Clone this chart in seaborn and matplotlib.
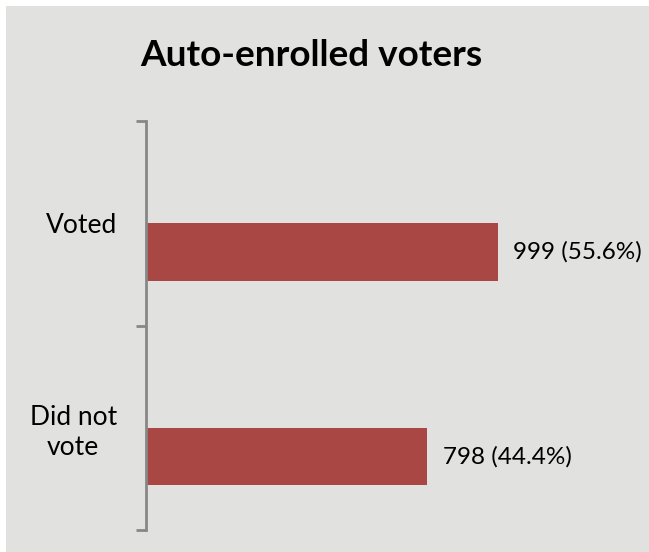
import matplotlib
matplotlib.use("Agg")
import matplotlib.pyplot as plt
from matplotlib.patches import Rectangle
import seaborn as sns
import pandas as pd

# Chart data
categories = ["Voted", "Did not\nvote"]
auto_enrolled = [999, 798]
auto_pct = [55.6, 44.4]
other_series = [3, 3]
series_names = ["Other", "Auto-enrolled"]

title = "Auto-enrolled voters"
bar_color = "#a84744"
panel_color = "#e1e1df"
axis_color = "#878787"
font = ["Lato", "DejaVu Sans"]

sns.set_style("white")
plt.rcParams["font.family"] = font

df = pd.DataFrame({
    "category": categories * 2,
    "series": [series_names[0]] * len(categories) + [series_names[1]] * len(categories),
    "count": other_series + auto_enrolled,
})

fig = plt.figure(figsize=(6.49, 5.52), dpi=100, facecolor="white")
fig.patches.append(Rectangle((6 / 649, 0), 1 - 6 / 649, 1 - 6 / 552,
                             transform=fig.transFigure, facecolor=panel_color,
                             edgecolor="none", zorder=-10))

ax = fig.add_axes([146 / 649, 1 - 530 / 552, 423 / 649, 409 / 552])
sns.barplot(data=df, y="category", x="count", hue="series",
            hue_order=series_names, order=categories,
            palette=[bar_color, bar_color], width=0.56, gap=0,
            saturation=1, legend=False, ax=ax, orient="h",
            edgecolor="none", linewidth=0)

ax.patch.set_visible(False)
ax.set_xlim(0, 1200)
ax.set_ylim(1.5, -0.5)
ax.set_xlabel("")
ax.set_ylabel("")
for s in ["top", "right", "bottom"]:
    ax.spines[s].set_visible(False)
ax.spines["left"].set_color(axis_color)
ax.spines["left"].set_linewidth(2)
ax.set_xticks([])

# category labels at centres, tick marks at category boundaries
ax.set_yticks(range(len(categories)))
ax.set_yticklabels(categories, fontsize=19, color="black", linespacing=1.25)
for lbl in ax.get_yticklabels():
    lbl.set_multialignment("center")
ax.set_yticks([-0.5, 0.5, 1.5], minor=True)
ax.tick_params(axis="y", which="major", left=False, length=0, pad=21)
ax.tick_params(axis="y", which="minor", left=True, length=7, width=2,
               color=axis_color, direction="out")

# value labels on the auto-enrolled bars
auto_bars = ax.containers[1]
for rect, n, p in zip(auto_bars, auto_enrolled, auto_pct):
    ax.annotate(f"{n} ({p}%)", xy=(rect.get_width(), rect.get_y() + rect.get_height() / 2),
                xytext=(11, 0), textcoords="offset points",
                ha="left", va="center", fontsize=17.5, color="black",
                annotation_clip=False)

fig.text(311 / 649, 1 - 66 / 552, title, ha="center", va="baseline",
         fontsize=26.6, fontweight="bold", color="black")

fig.savefig("out.png", dpi=100, facecolor="white")
